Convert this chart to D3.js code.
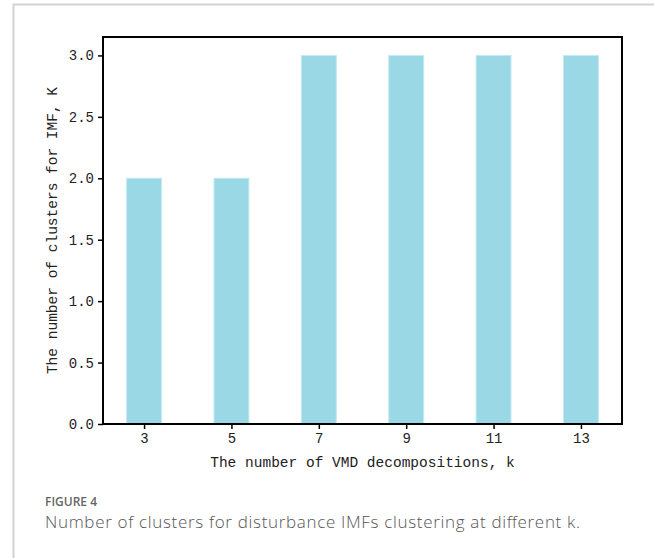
<!DOCTYPE html>
<html>
<head>
<meta charset="utf-8">
<script src="https://cdn.jsdelivr.net/npm/d3@7"></script>
<style>
  body { margin: 0; background: #fff; }
  .tick text { font-family: "Liberation Mono", monospace; font-size: 14px; fill: #222; }
  .axis-label { font-family: "Liberation Mono", monospace; font-size: 14.5px; fill: #222; }
  .cap-title { font-family: "Open Sans", sans-serif; font-size: 12px; font-weight: 600; fill: #666; }
  .cap-text { font-family: "Open Sans", sans-serif; font-size: 17px; font-weight: 300; fill: #555; }
</style>
</head>
<body>
<div class="container"></div>
<script>
// bar chart data: number of VMD decompositions vs clusters found
const decompositions = [3, 5, 7, 9, 11, 13];
const clusters = [2, 2, 3, 3, 3, 3];
const yTicks = [0, 0.5, 1.0, 1.5, 2.0, 2.5, 3.0];

const width = 654;
const height = 558;
const margin = { top: 37, right: 32, bottom: 134, left: 103 };

const svg = d3.select(".container")
  .append("svg")
  .attr("width", width)
  .attr("height", height);

// card border (left and top)
svg.append("path")
  .attr("d", "M13.5,558 V4.5 H654")
  .attr("fill", "none")
  .attr("stroke", "#d2d2d2")
  .attr("stroke-width", 2);

const x0 = margin.left, x1 = width - margin.right;
const y0 = height - margin.bottom, y1 = margin.top;

// numeric x like matplotlib, width 0.8 and 5% margins
const xMin = d3.min(decompositions) - 0.4, xMax = d3.max(decompositions) + 0.4;
const xPad = (xMax - xMin) * 0.05;
const x = d3.scaleLinear()
  .domain([xMin - xPad, xMax + xPad])
  .range([x0, x1]);

const y = d3.scaleLinear()
  .domain([0, 3.15])
  .range([y0, y1]);

const barW = x(0.8) - x(0);

svg.append("g")
  .selectAll("rect")
  .data(decompositions)
  .enter()
  .append("rect")
  .attr("x", (d) => x(d) - barW / 2)
  .attr("y", (d, i) => y(clusters[i]))
  .attr("width", barW)
  .attr("height", (d, i) => y(0) - y(clusters[i]))
  .attr("fill", "#9ad8e6")
  .attr("stroke", "#c6eaf2")
  .attr("stroke-width", 1);

// axes
const xAxis = svg.append("g")
  .attr("transform", "translate(0," + y0 + ")")
  .call(d3.axisBottom(x).tickValues(decompositions).tickSize(5).tickPadding(4).tickFormat(d3.format("d")));

const yAxis = svg.append("g")
  .attr("transform", "translate(" + x0 + ",0)")
  .call(d3.axisLeft(y).tickValues(yTicks).tickSize(5).tickPadding(4).tickFormat(d3.format(".1f")));

[xAxis, yAxis].forEach((g) => {
  g.select(".domain").remove();
  g.selectAll(".tick line").attr("stroke", "#000").attr("stroke-width", 1.5);
});

// frame
svg.append("rect")
  .attr("x", x0)
  .attr("y", y1)
  .attr("width", x1 - x0)
  .attr("height", y0 - y1)
  .attr("fill", "none")
  .attr("stroke", "#000")
  .attr("stroke-width", 2);

// axis labels
svg.append("text")
  .attr("class", "axis-label")
  .attr("x", (x0 + x1) / 2)
  .attr("y", 467)
  .attr("text-anchor", "middle")
  .text("The number of VMD decompositions, k");

svg.append("text")
  .attr("class", "axis-label")
  .attr("transform", "translate(57," + (y0 + y1) / 2 + ") rotate(-90)")
  .attr("text-anchor", "middle")
  .text("The number of clusters for IMF, K");

// caption
svg.append("text")
  .attr("class", "cap-title")
  .attr("x", 45)
  .attr("y", 506)
  .text("FIGURE 4");

svg.append("text")
  .attr("class", "cap-text")
  .attr("x", 45)
  .attr("y", 528)
  .attr("textLength", 535)
  .attr("lengthAdjust", "spacing")
  .text("Number of clusters for disturbance IMFs clustering at different k.");
</script>
</body>
</html>
